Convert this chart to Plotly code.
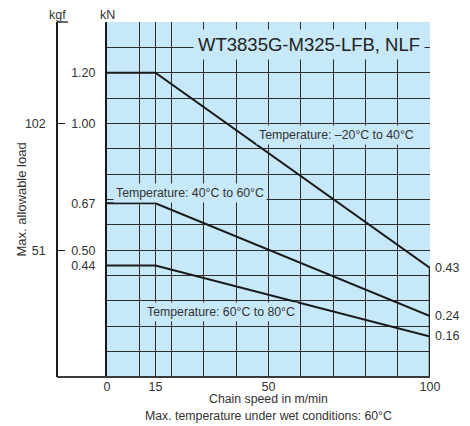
import plotly.graph_objects as go

# ---------------- data ----------------
SPEED = [0, 15, 100]                       # m/min break points
LOAD_M20_40 = [1.20, 1.20, 0.43]           # kN, -20..40 C
LOAD_40_60 = [0.685, 0.685, 0.24]          # kN, 40..60 C (plateau labelled 0.67)
LOAD_60_80 = [0.44, 0.44, 0.16]            # kN, 60..80 C

END_LABELS = ["0.43", "0.24", "0.16"]

X_TICKS = [0, 15, 50, 100]
X_TEXT = ["0", "15", "50", "100"]
KN_TICKS = [1.20, 1.00, 0.685, 0.50, 0.44]
KN_TEXT = ["1.20", "1.00", "0.67", "0.50", "0.44"]
KGF_TICKS = [51, 102]
KGF_TEXT = ["51", "102"]
GRID_Y = [0.1, 0.2, 0.3, 0.4, 0.5, 0.6, 0.7, 0.8, 0.9, 1.0, 1.1, 1.2, 1.3]

Y_MAX_KN = 1.4
KN_TO_KGF = 101.97

SERIES_LABELS = ["Temperature: \u201320\u00b0C to 40\u00b0C",
                 "Temperature: 40\u00b0C to 60\u00b0C",
                 "Temperature: 60\u00b0C to 80\u00b0C"]
TITLE = "WT3835G-M325-LFB, NLF"

# ---------------- style ----------------
BG = "#C6E8F8"
GRID = "#2e2e2e"
LINE = "#1a1a1a"
TXT = "#333333"
FONT = "Liberation Sans, Arial, sans-serif"
X0_DOM = (107 - 57) / 373

fig = go.Figure()
for ys in (LOAD_M20_40, LOAD_40_60, LOAD_60_80):
    fig.add_trace(go.Scatter(x=SPEED, y=ys, mode="lines",
                             line=dict(color=LINE, width=2),
                             hoverinfo="skip", showlegend=False))
# thick right edge below the first curve end
fig.add_trace(go.Scatter(x=[SPEED[-1], SPEED[-1]], y=[0, LOAD_M20_40[-1]],
                         mode="lines", line=dict(color=LINE, width=2.5),
                         hoverinfo="skip", showlegend=False))
# invisible helpers for overlay axes
fig.add_trace(go.Scatter(x=[0, 100], y=[0, Y_MAX_KN * KN_TO_KGF], yaxis="y2",
                         mode="markers", marker=dict(opacity=0),
                         hoverinfo="skip", showlegend=False))
fig.add_trace(go.Scatter(x=[0, 100], y=[0, Y_MAX_KN], yaxis="y3",
                         mode="markers", marker=dict(opacity=0),
                         hoverinfo="skip", showlegend=False))

# page body has an 8px margin: figure is offset by 8px right/down
fig.update_layout(
    width=462, height=418,
    margin=dict(l=49, r=40, t=14, b=49),
    paper_bgcolor="white", plot_bgcolor=BG,
    font=dict(family=FONT, size=12.5, color=TXT),
    showlegend=False,
    xaxis=dict(domain=[X0_DOM, 1], range=[0, 100],
               tickmode="array", tickvals=X_TICKS, ticktext=X_TEXT,
               showgrid=True, gridcolor=GRID, gridwidth=1,
               minor=dict(dtick=10, tick0=0, showgrid=True,
                          gridcolor=GRID, gridwidth=1),
               zeroline=False, showline=False, ticks="",
               fixedrange=True),
    yaxis=dict(range=[0, Y_MAX_KN], tickmode="array",
               tickvals=KN_TICKS, ticktext=KN_TEXT,
               showgrid=False, zeroline=False, showline=True,
               linecolor=LINE, linewidth=2, ticks="",
               ticklabelstandoff=7, fixedrange=True),
    yaxis2=dict(overlaying="y", anchor="free", position=0, side="left",
                range=[0, Y_MAX_KN * KN_TO_KGF], tickmode="array",
                tickvals=KGF_TICKS, ticktext=KGF_TEXT,
                ticks="inside", ticklen=7, tickwidth=1.3, tickcolor=LINE,
                showline=True, linecolor=LINE, linewidth=1.5,
                showgrid=False, zeroline=False, ticklabelstandoff=8,
                fixedrange=True),
    yaxis3=dict(overlaying="y", anchor="x", side="left",
                range=[0, Y_MAX_KN], tickmode="array", tickvals=GRID_Y,
                showticklabels=False, showgrid=True, gridcolor=GRID,
                gridwidth=1, zeroline=False, showline=False, ticks="",
                fixedrange=True),
)

shapes = [
    dict(type="line", xref="paper", yref="paper", x0=0, x1=1, y0=0, y1=0,
         line=dict(color="#3a3a3a", width=2)),
    dict(type="line", xref="paper", yref="paper", x0=0, x1=11 / 373, y0=1, y1=1,
         line=dict(color=LINE, width=1.3)),
]
fig.update_layout(shapes=shapes)

ann = []
ann.append(dict(text="kgf", xref="paper", yref="paper", x=0, y=1,
                xanchor="center", yanchor="middle", yshift=7, showarrow=False,
                font=dict(size=12.5, color=TXT)))
ann.append(dict(text="kN", xref="paper", yref="paper", x=X0_DOM, y=1,
                xanchor="center", yanchor="middle", yshift=7, showarrow=False,
                font=dict(size=12.5, color=TXT)))
ann.append(dict(text="Max. allowable load", xref="paper", yref="paper",
                x=0, y=0.5, xshift=-36, textangle=-90, showarrow=False,
                xanchor="center", yanchor="middle",
                font=dict(size=13, color=TXT)))
ann.append(dict(text="Chain speed in m/min", xref="paper", yref="paper",
                x=(X0_DOM + 1) / 2, y=0, yshift=-22, showarrow=False,
                xanchor="center", yanchor="middle",
                font=dict(size=12.3, color=TXT)))
ann.append(dict(text="Max. temperature under wet conditions: 60\u00b0C",
                xref="paper", yref="paper",
                x=(X0_DOM + 1) / 2, y=0, yshift=-39, showarrow=False,
                xanchor="center", yanchor="middle",
                font=dict(size=12.3, color=TXT)))
# end value labels
for ys, lab in zip((LOAD_M20_40, LOAD_40_60, LOAD_60_80), END_LABELS):
    ann.append(dict(text=lab, xref="x", yref="y", x=SPEED[-1], y=ys[-1],
                    xanchor="left", yanchor="middle", xshift=3, showarrow=False,
                    font=dict(size=12.5, color=TXT)))
# series labels
label_pos = [(71.2, 0.953), (25.7, 0.724), (35.3, 0.256)]
for lab, (lx, ly) in zip(SERIES_LABELS, label_pos):
    ann.append(dict(text=lab, xref="x", yref="y", x=lx, y=ly,
                    xanchor="center", yanchor="middle", showarrow=False,
                    bgcolor=BG, borderpad=2,
                    font=dict(size=12.3, color=TXT)))
ann.append(dict(text=TITLE, xref="x", yref="y", x=62.6, y=1.31,
                xanchor="center", yanchor="middle", showarrow=False,
                bgcolor=BG, borderpad=4,
                font=dict(size=18.5, color="#222222")))
fig.update_layout(annotations=ann)

fig.write_html("out.html")
